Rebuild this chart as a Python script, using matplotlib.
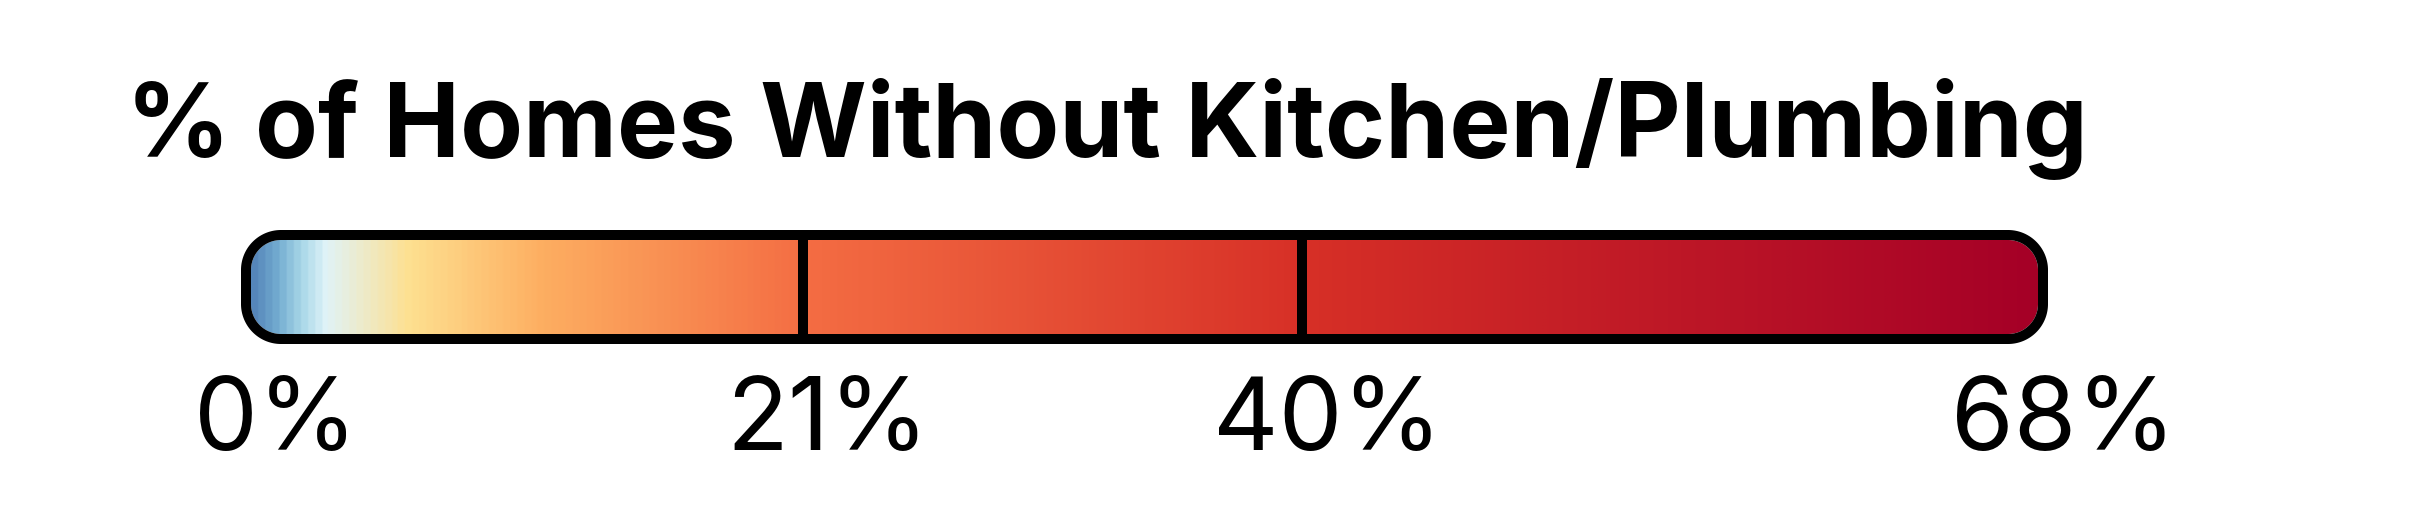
import numpy as np
import matplotlib
import matplotlib.pyplot as plt
from matplotlib.colors import LinearSegmentedColormap
from matplotlib.patches import Polygon
from matplotlib.transforms import blended_transform_factory

matplotlib.use('Agg')

# legend data
title = "% of Homes Without Kitchen/Plumbing"
vmin, vmax = 0, 68
breaks = [21, 40]
tick_values = [0, 21, 40, 68]
tick_labels = ["0%", "21%", "40%", "68%"]

# colour stops of the gradient (value, colour)
stop_values = [0, 0.9, 1.8, 2.7, 5.9, 11, 21, 40, 68]
stop_colors = ['#5586ba', '#74add1', '#abd9e9', '#e0f3f8', '#fee090',
               '#fdae61', '#f46d43', '#d73027', '#a50026']


def rounded_rect(x0, y0, x1, y1, rx, ry, n=40):
    # corners as elliptical arcs so they look circular on screen
    t = np.linspace(0, np.pi / 2, n)
    pts = []
    for cx, cy, a0 in [(x1 - rx, y1 - ry, 0), (x0 + rx, y1 - ry, np.pi / 2),
                       (x0 + rx, y0 + ry, np.pi), (x1 - rx, y0 + ry, 1.5 * np.pi)]:
        pts.append(np.column_stack([cx + rx * np.cos(t + a0), cy + ry * np.sin(t + a0)]))
    return np.vstack(pts)


W, H = 2414, 512
fig = plt.figure(figsize=(W / 100, H / 100), dpi=100)

# bar interior in pixels: x 251..2038, y 240..334 (from top)
left_px, right_px, top_px, bot_px = 251, 2038, 240, 334
ax = fig.add_axes([left_px / W, (H - bot_px) / H,
                   (right_px - left_px) / W, (bot_px - top_px) / H])
ax.set_xlim(vmin, vmax)
ax.set_ylim(0, 1)
ax.axis('off')

px_x = (vmax - vmin) / (right_px - left_px)   # data units per pixel (x)
px_y = 1 / (bot_px - top_px)                  # data units per pixel (y)

pos = [(v - vmin) / (vmax - vmin) for v in stop_values]
cmap = LinearSegmentedColormap.from_list('legend', list(zip(pos, stop_colors)))
grad = np.linspace(vmin, vmax, 1000).reshape(1, -1)
img = ax.imshow(grad, cmap=cmap, vmin=vmin, vmax=vmax, aspect='auto',
                extent=(vmin, vmax, 0, 1), interpolation='bilinear')

inner = Polygon(rounded_rect(vmin, 0, vmax, 1, 30 * px_x, 30 * px_y), closed=True,
                facecolor='none', edgecolor='none', transform=ax.transData)
ax.add_patch(inner)
img.set_clip_path(inner)

for b in breaks:
    ax.plot([b, b], [0, 1], color='black', lw=7.2, solid_capstyle='butt')

# outline, centred on the border line (5 px outside the interior)
off_x, off_y = 5 * px_x, 5 * px_y
border = Polygon(rounded_rect(vmin - off_x, -off_y, vmax + off_x, 1 + off_y,
                              35 * px_x, 35 * px_y), closed=True,
                 facecolor='none', edgecolor='black', lw=7.2, joinstyle='round',
                 transform=ax.transData, clip_on=False)
ax.add_patch(border)

fig.text(126 / W, (H - 157) / H, title, fontsize=74, fontweight='bold',
         family='Inter', ha='left', va='baseline')

tr = blended_transform_factory(ax.transData, fig.transFigure)
label_shift = 25 * px_x
for v, lab in zip(tick_values, tick_labels):
    ax.text(v + label_shift, (H - 450) / H, lab, transform=tr, fontsize=73,
            family='Inter', ha='center', va='baseline', clip_on=False)

fig.savefig('out.png', dpi=100, facecolor='white')
